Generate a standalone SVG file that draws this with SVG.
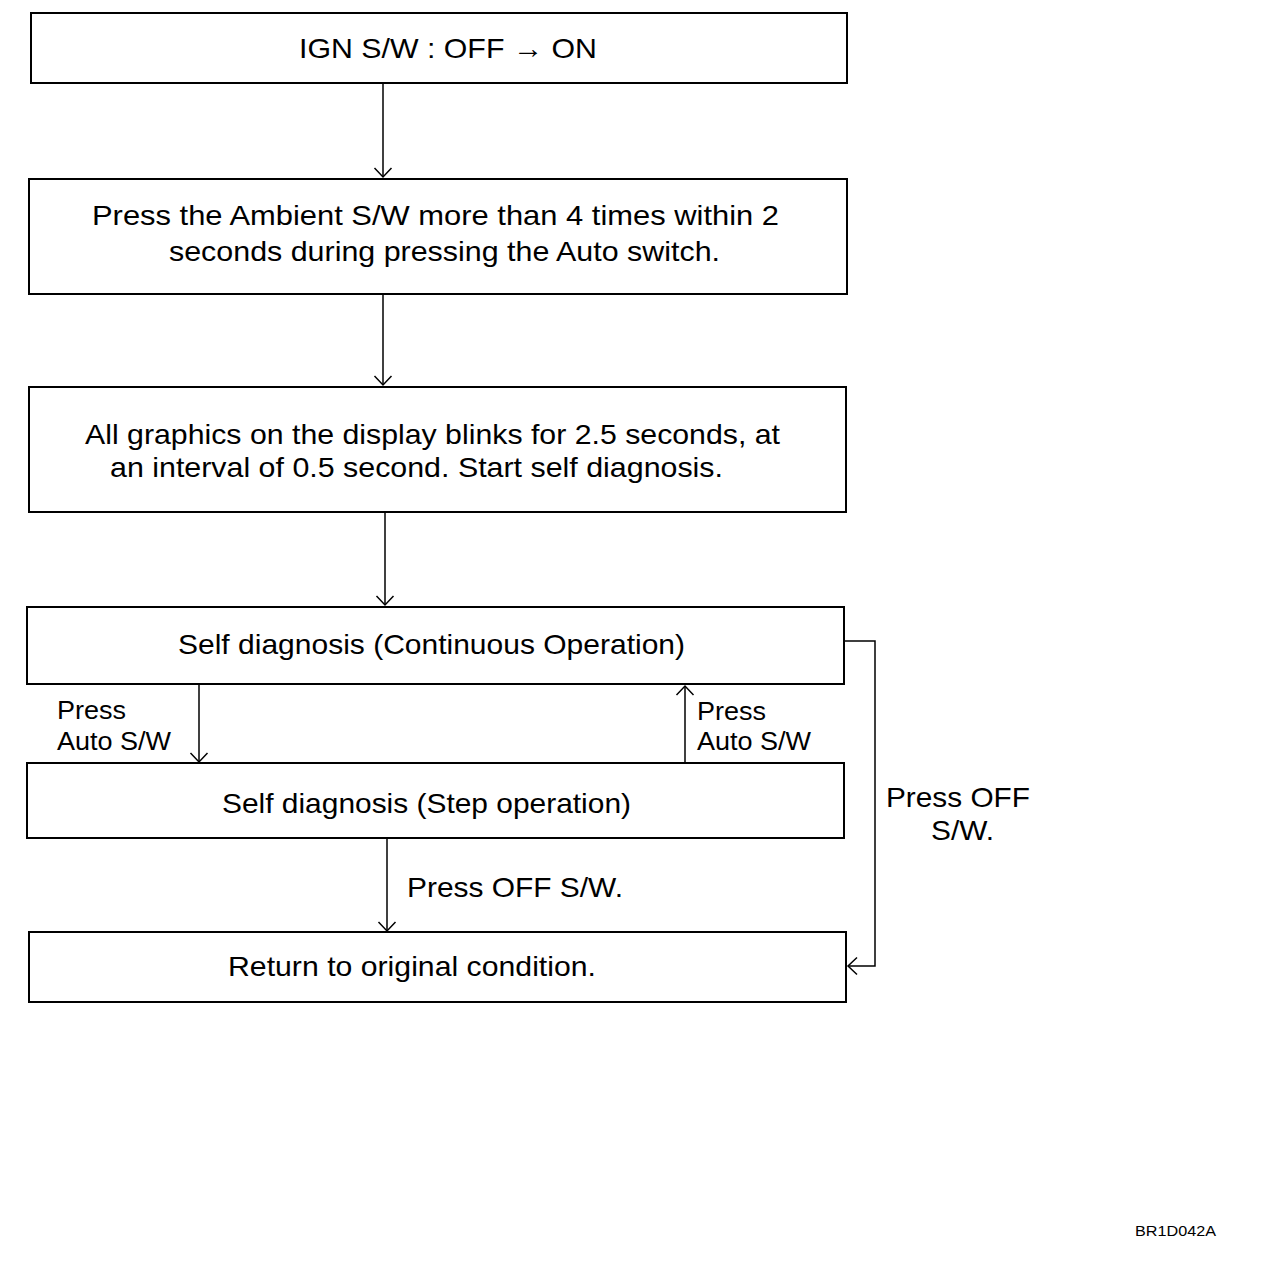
<svg xmlns="http://www.w3.org/2000/svg" width="1264" height="1268" viewBox="0 0 1264 1268">
<defs>
<style>
.box{fill:#fff;stroke:#000;stroke-width:2}
.t{font-family:"Liberation Sans",Arial,sans-serif;font-size:28px;fill:#000}
.s{font-family:"Liberation Sans",Arial,sans-serif;font-size:26px;fill:#000}
.c{fill:none;stroke:#000;stroke-width:1.5}
</style>
<marker id="ah" viewBox="0 0 20 20" refX="10" refY="10" markerWidth="20" markerHeight="20" markerUnits="userSpaceOnUse" orient="auto">
<path d="M1,1.5 L10,10 L1,18.5" fill="none" stroke="#000" stroke-width="1.5"/>
</marker>
</defs>
<rect width="1264" height="1268" fill="#fff"/>
<g id="connectors">
<line class="c" x1="383" y1="84" x2="383" y2="177" marker-end="url(#ah)"/>
<line class="c" x1="383" y1="295" x2="383" y2="385" marker-end="url(#ah)"/>
<line class="c" x1="385" y1="513" x2="385" y2="605" marker-end="url(#ah)"/>
<line class="c" x1="199" y1="685" x2="199" y2="762" marker-end="url(#ah)"/>
<line class="c" x1="685" y1="763" x2="685" y2="686" marker-end="url(#ah)"/>
<line class="c" x1="387" y1="839" x2="387" y2="931" marker-end="url(#ah)"/>
<polyline class="c" points="845,641 875,641 875,966 848,966" marker-end="url(#ah)"/>
<text class="s" x="57" y="719" textLength="69" lengthAdjust="spacingAndGlyphs">Press</text>
<text class="s" x="57" y="750" textLength="114" lengthAdjust="spacingAndGlyphs">Auto S/W</text>
<text class="s" x="697" y="720" textLength="69" lengthAdjust="spacingAndGlyphs">Press</text>
<text class="s" x="697" y="750" textLength="114" lengthAdjust="spacingAndGlyphs">Auto S/W</text>
<text class="t" x="407" y="897" textLength="216" lengthAdjust="spacingAndGlyphs">Press OFF S/W.</text>
<text class="t" x="886" y="807" textLength="144" lengthAdjust="spacingAndGlyphs">Press OFF</text>
<text class="t" x="931" y="840" textLength="63" lengthAdjust="spacingAndGlyphs">S/W.</text>
</g>
<g id="n1">
<rect class="box" x="31" y="13" width="816" height="70"/>
<text class="t" x="299" y="58" textLength="298" lengthAdjust="spacingAndGlyphs">IGN S/W : OFF → ON</text>
</g>
<g id="n2">
<rect class="box" x="29" y="179" width="818" height="115"/>
<text class="t" x="92" y="225" textLength="687" lengthAdjust="spacingAndGlyphs">Press the Ambient  S/W more than 4 times within  2</text>
<text class="t" x="169" y="261" textLength="551" lengthAdjust="spacingAndGlyphs">seconds during pressing the Auto switch.</text>
</g>
<g id="n3">
<rect class="box" x="29" y="387" width="817" height="125"/>
<text class="t" x="85" y="444" textLength="695" lengthAdjust="spacingAndGlyphs">All graphics on the display blinks for 2.5 seconds, at</text>
<text class="t" x="110" y="477" textLength="613" lengthAdjust="spacingAndGlyphs">an  interval of 0.5 second. Start self diagnosis.</text>
</g>
<g id="n4">
<rect class="box" x="27" y="607" width="817" height="77"/>
<text class="t" x="178" y="654" textLength="507" lengthAdjust="spacingAndGlyphs">Self diagnosis (Continuous Operation)</text>
</g>
<g id="n5">
<rect class="box" x="27" y="763" width="817" height="75"/>
<text class="t" x="222" y="813" textLength="409" lengthAdjust="spacingAndGlyphs">Self diagnosis (Step operation)</text>
</g>
<g id="n6">
<rect class="box" x="29" y="932" width="817" height="70"/>
<text class="t" x="228" y="976" textLength="368" lengthAdjust="spacingAndGlyphs">Return to original condition.</text>
</g>
<text x="1135" y="1236" font-family="Liberation Sans,Arial,sans-serif" font-size="14" textLength="81" lengthAdjust="spacingAndGlyphs">BR1D042A</text>
</svg>
